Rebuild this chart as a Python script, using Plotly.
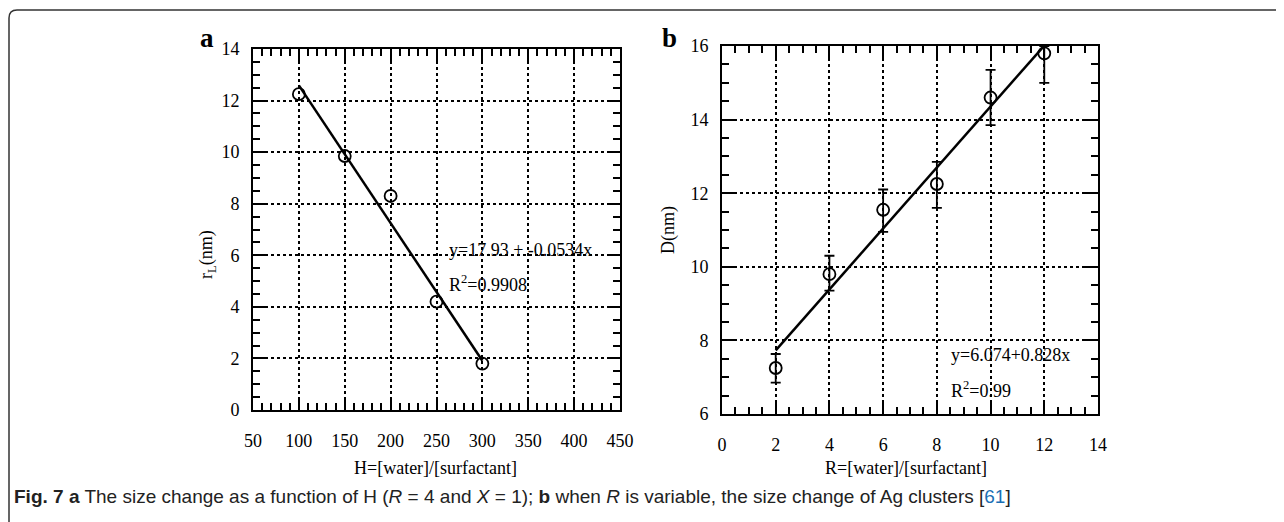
import plotly.graph_objects as go

# ---- data: panel a ----
h_vals = [100, 150, 200, 250, 300]
rl_vals = [12.25, 9.85, 8.3, 4.2, 1.8]
fit_a_intercept = 17.93
fit_a_slope = -0.0534
fit_a_x = [100, 300]

# ---- data: panel b ----
r_vals = [2, 4, 6, 8, 10, 12]
d_vals = [7.25, 9.8, 11.55, 12.25, 14.6, 15.8]
d_err_plus = [0.38, 0.5, 0.55, 0.6, 0.75, 0.2]
d_err_minus = [0.4, 0.45, 0.6, 0.65, 0.75, 0.8]
fit_b_intercept = 6.074
fit_b_slope = 0.828
fit_b_x = [2, 12]

a_xticks = [50, 100, 150, 200, 250, 300, 350, 400, 450]
a_yticks = [0, 2, 4, 6, 8, 10, 12, 14]
b_xticks = [0, 2, 4, 6, 8, 10, 12, 14]
b_yticks = [6, 8, 10, 12, 14, 16]

OFF = 8  # page body margin
W, H = 1284 - OFF, 522 - OFF
def px(x):
    return (x - OFF) / W
def py(y):
    return 1 - (y - OFF) / H

SERIF = "Liberation Serif, Times New Roman, serif"
FS = 18

fig = go.Figure()

fig.add_trace(go.Scatter(
    x=fit_a_x, y=[fit_a_intercept + fit_a_slope * v for v in fit_a_x],
    mode="lines", line=dict(color="black", width=2.5),
    xaxis="x", yaxis="y", showlegend=False, hoverinfo="skip"))
fig.add_trace(go.Scatter(
    x=h_vals, y=rl_vals, mode="markers",
    marker=dict(symbol="circle-open", size=12, color="black", line=dict(width=1.8)),
    xaxis="x", yaxis="y", showlegend=False))

fig.add_trace(go.Scatter(
    x=fit_b_x, y=[fit_b_intercept + fit_b_slope * v for v in fit_b_x],
    mode="lines", line=dict(color="black", width=2.5),
    xaxis="x2", yaxis="y2", showlegend=False, hoverinfo="skip"))
fig.add_trace(go.Scatter(
    x=r_vals, y=d_vals, mode="markers",
    marker=dict(symbol="circle-open", size=12, color="black", line=dict(width=1.8)),
    error_y=dict(type="data", array=d_err_plus, arrayminus=d_err_minus,
                 color="black", thickness=1.8, width=5),
    xaxis="x2", yaxis="y2", showlegend=False))

def axis_common(rng, ticks, minor_dtick, domain, anchor, is_x):
    d = dict(
        range=rng, tickvals=ticks, ticktext=[str(t) for t in ticks],
        domain=domain, anchor=anchor, automargin=False,
        showline=True, linecolor="black", linewidth=2, mirror="allticks",
        ticks="inside", ticklen=13, tickwidth=2, tickcolor="black",
        showgrid=True, gridcolor="black", gridwidth=1.5, griddash="dot",
        zeroline=False,
        tickfont=dict(family=SERIF, size=FS, color="black"),
        minor=dict(dtick=minor_dtick, ticks="inside", ticklen=7, tickwidth=2,
                   tickcolor="black", showgrid=False),
    )
    if is_x:
        d["ticklabelstandoff"] = 13
    else:
        d["ticklabelstandoff"] = 8
    return d

a_xdom = [px(253), px(620)]
a_ydom = [py(410), py(49)]
b_xdom = [px(722), px(1098)]
b_ydom = [py(414), py(46)]

fig.update_layout(
    width=W, height=H,
    margin=dict(l=0, r=0, t=0, b=0, pad=0, autoexpand=False),
    paper_bgcolor="white", plot_bgcolor="white",
    xaxis=axis_common([50, 450], a_xticks, 10, a_xdom, "y", True),
    yaxis=axis_common([0, 14], a_yticks, 0.5, a_ydom, "x", False),
    xaxis2=axis_common([0, 14], b_xticks, 0.5, b_xdom, "y2", True),
    yaxis2=axis_common([6, 16], b_yticks, 0.5, b_ydom, "x2", False),
)

ann = []
def text(x, y, s, size=FS, xanchor="center", angle=0, family=SERIF, yanchor="middle"):
    ann.append(dict(x=px(x), y=py(y), xref="paper", yref="paper", text=s,
                    showarrow=False, xanchor=xanchor, yanchor=yanchor, textangle=angle,
                    font=dict(family=family, size=size, color="black")))

# panel letters
text(207, 38, "<b>a</b>", size=27)
text(669, 38, "<b>b</b>", size=27)
# axis titles
text(436, 468, "H=[water]/[surfactant]")
text(906, 468, "R=[water]/[surfactant]")
text(207, 255, "r<sub>L</sub>(nm)", angle=-90)
text(668, 230, "D(nm)", angle=-90)
# fit annotations
text(447, 250, "y=17.93 + -0.0534x", xanchor="left")
text(447, 283, "R<sup>2</sup>=0.9908", xanchor="left")
text(949, 355, "y=6.074+0.828x", xanchor="left")
text(949, 389, "R<sup>2</sup>=0.99", xanchor="left")

# caption
cap = ("<b>Fig. 7</b> <b>a</b> The size change as a function of H (<i>R</i> = 4 and <i>X</i> = 1); "
       "<b>b</b> when <i>R</i> is variable, the size change of Ag clusters "
       "[<span style='color:#1a6fb5'>61</span>]")
ann.append(dict(x=px(12), y=py(496), xref="paper", yref="paper", text=cap,
                showarrow=False, xanchor="left", yanchor="middle",
                font=dict(family="Liberation Sans Narrow, Liberation Sans, Arial, sans-serif",
                          size=19, color="#222222")))
fig.update_layout(annotations=ann)

# rounded figure frame
r = 8
path = (f"M {px(9)},{py(540)} L {px(9)},{py(10 + r)} "
        f"Q {px(9)},{py(10)} {px(9 + r)},{py(10)} L {px(1300)},{py(10)}")
fig.add_shape(type="path", path=path, xref="paper", yref="paper",
              line=dict(color="#333333", width=1.5))

fig.write_html("out.html")
